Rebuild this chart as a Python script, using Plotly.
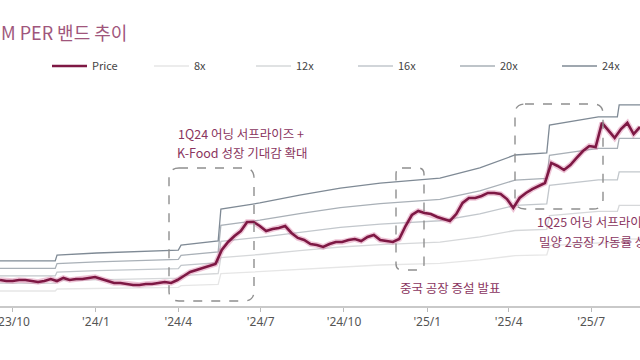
import pandas as pd
import plotly.graph_objects as go

# ---------------- data ----------------
# weekly closing price (thousand KRW), starting 2023-09-17
price_start = "2023-09-17"
price = [213, 205, 205, 213, 213, 205, 197, 205, 221, 205,
         230, 213, 221, 221, 230, 238, 221, 205, 189, 189,
         180, 172, 172, 180, 180, 189, 197, 189, 213, 246,
         279, 295, 312, 328, 344, 459, 525, 574, 615, 689,
         689, 656, 615, 631, 640, 656, 599, 558, 541, 508,
         500, 484, 508, 525, 525, 541, 549, 533, 566, 582,
         541, 533, 525, 549, 656, 746, 779, 763, 754, 730,
         713, 697, 754, 845, 886, 886, 902, 927, 927, 918,
         877, 804, 886, 927, 959, 984, 1009, 1173, 1148, 1115,
         1156, 1214, 1271, 1312, 1304, 1501, 1435, 1378, 1451, 1501,
         1410, 1468]

# 12M forward EPS (thousand KRW) at revision dates
eps_dates = ["2023-09-17", "2023-11-17", "2023-11-19", "2024-01-02", "2024-04-01",
             "2024-04-04", "2024-05-15", "2024-05-18", "2024-06-30", "2024-08-13",
             "2024-09-27", "2024-11-10", "2025-01-15", "2025-02-28", "2025-04-08",
             "2025-05-13", "2025-05-16", "2025-07-09", "2025-07-30", "2025-08-01",
             "2025-08-29"]
eps = [15.4, 15.4, 17.4, 18.1, 19.1,
       20.8, 22.2, 33.1, 35.2, 37.9,
       40.3, 42.0, 43.7, 47.2, 51.6,
       52.3, 61.8, 64.6, 64.6, 68.7,
       68.7]

multiples = [8, 12, 16, 20, 24]
band_labels = ["8x", "12x", "16x", "20x", "24x"]
band_colors = ["#e6e6e6", "#d6d8da", "#c2c7cc", "#a9b0b7", "#7f8a95"]

tick_dates = ["2023-10-01", "2024-01-01", "2024-04-01", "2024-07-01",
              "2024-10-01", "2025-01-01", "2025-04-01", "2025-07-01"]
tick_labels = ["'23/10", "'24/1", "'24/4", "'24/7", "'24/10", "'25/1", "'25/4", "'25/7"]

title_text = "M PER 밴드 추이"
notes = [
    ("1Q24 어닝 서프라이즈 +", 241, 133, "center"),
    ("K-Food 성장 기대감 확대", 242, 152, "center"),
    ("중국 공장 증설 발표", 450, 287, "center"),
    ("1Q25 어닝 서프라이즈 +", 535, 221, "left"),
    ("밀양 2공장 가동률 상승", 537, 241, "left"),
]

# ---------------- figure ----------------
W, H = 640, 360
T, B = 75, 54
PLOT_H = H - T - B
BASE = H - B
KPP = 8.2  # thousand KRW per pixel

dates = pd.date_range(price_start, periods=len(price), freq="7D")
fig = go.Figure()

for i, (m, lab, col) in enumerate(zip(multiples, band_labels, band_colors)):
    fig.add_trace(go.Scatter(x=pd.to_datetime(eps_dates), y=[e * m for e in eps],
                             mode="lines", name=lab, legendrank=2 + i,
                             line=dict(color=col, width=1.3)))

fig.add_trace(go.Scatter(x=dates, y=price, mode="lines",
                         line=dict(color="rgba(205,90,140,0.35)", width=5.5),
                         showlegend=False, hoverinfo="skip"))
fig.add_trace(go.Scatter(x=dates, y=price, mode="lines", name="Price", legendrank=1,
                         line=dict(color="#7e1844", width=2.6)))


def P(px, py):
    return px / W, (BASE - py) / PLOT_H


def rrect(x0, y0, x1, y1, r):
    pts = [("M", [(x0 + r, y0)]), ("L", [(x1 - r, y0)]), ("Q", [(x1, y0), (x1, y0 + r)]),
           ("L", [(x1, y1 - r)]), ("Q", [(x1, y1), (x1 - r, y1)]), ("L", [(x0 + r, y1)]),
           ("Q", [(x0, y1), (x0, y1 - r)]), ("L", [(x0, y0 + r)]), ("Q", [(x0, y0), (x0 + r, y0)])]
    s = ""
    for cmd, ps in pts:
        s += cmd + " " + " ".join("%.5f,%.5f" % P(a, b) for a, b in ps) + " "
    return s + "Z"


shapes = []
for (x0, y0, x1, y1, r) in [(169, 168, 254, 301, 10), (396, 168, 424, 270, 6), (515, 104, 603, 209, 10)]:
    shapes.append(dict(type="path", xref="paper", yref="paper", path=rrect(x0, y0, x1, y1, r),
                       line=dict(color="#8f8f8f", width=1.4, dash="dash")))

annotations = []
for txt, px, py, al in notes:
    xp, yp = P(px, py)
    annotations.append(dict(text=txt, x=xp, y=yp, xref="paper", yref="paper",
                            xanchor=al, yanchor="middle", showarrow=False,
                            font=dict(size=12.5, color="#8a3560", family="Noto Sans CJK KR")))
xp, yp = P(-1, 32)
annotations.append(dict(text=title_text, x=xp, y=yp, xref="paper", yref="paper",
                        xanchor="left", yanchor="middle", showarrow=False,
                        font=dict(size=18, color="#a0567c", family="Noto Sans CJK KR")))

lx, ly = P(47, 66)
fig.update_layout(
    width=W, height=H,
    margin=dict(l=0, r=0, t=T, b=B, autoexpand=False),
    paper_bgcolor="white", plot_bgcolor="white",
    font=dict(family="Noto Sans CJK KR", color="#444"),
    showlegend=True,
    legend=dict(orientation="h", x=lx, y=ly, xanchor="left", yanchor="middle",
                entrywidth=52, entrywidthmode="pixels", itemwidth=35,
                font=dict(size=11, color="#444"),
                bgcolor="rgba(0,0,0,0)", traceorder="normal"),
    xaxis=dict(range=["2023-09-17", "2025-08-24"], showgrid=False, zeroline=False,
               showline=True, linecolor="#c9c9c9", linewidth=2,
               ticks="outside", ticklen=4, tickcolor="#bbbbbb",
               ticklabeloverflow="allow",
               tickvals=pd.to_datetime(tick_dates), ticktext=tick_labels,
               tickfont=dict(size=12, color="#555", family="Noto Sans")),
    yaxis=dict(range=[0, PLOT_H * KPP], visible=False, showgrid=False, zeroline=False),
    shapes=shapes, annotations=annotations,
)
fig.write_html("out.html", config={"displayModeBar": False},
               post_script="document.body.style.margin='0';document.body.style.overflow='hidden';")
